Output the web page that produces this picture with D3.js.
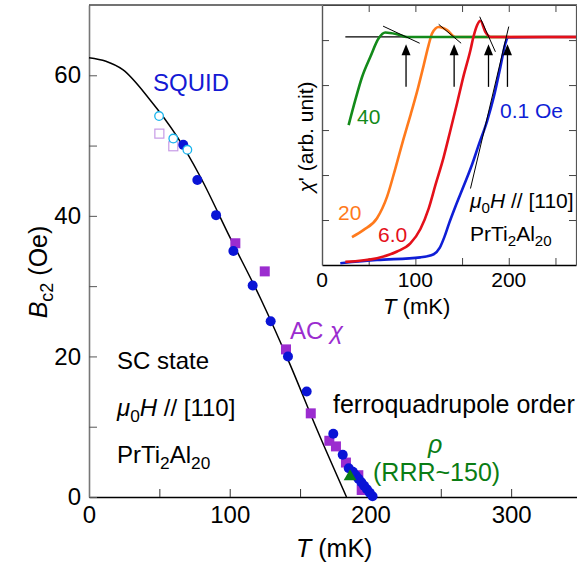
<!DOCTYPE html>
<html>
<head>
<meta charset="utf-8">
<script src="https://cdn.jsdelivr.net/npm/d3@7"></script>
<style>
  body { margin: 0; background: #fff; }
  svg { display: block; font-family: "Liberation Sans", Arial, sans-serif; }
</style>
</head>
<body>
<div id="chart"></div>
<script>
// ---- main panel: Bc2(T) ----
const fitT = [0, 12, 24, 43, 62.5, 79, 100, 122, 143, 162, 183];
const fitB = [62.5, 62.0, 60.8, 56.6, 51.3, 45.6, 37.0, 28.2, 18.8, 9.6, 0];

const squidT = [67, 77, 90.3, 102.6, 116.3, 129.1, 141.4, 154.7, 173.6, 180.3, 184.6, 187.5, 189.5, 191.5, 193.5, 195.5, 197.5, 199.5, 201.5];
const squidB = [50.1, 45.1, 40.1, 35.0, 30.1, 25.0, 20.0, 15.0, 9.0, 6.0, 4.1, 3.6, 3.1, 2.6, 2.1, 1.6, 1.1, 0.6, 0.1];
const openCircT = [49.8, 59.9, 69.9];
const openCircB = [54.2, 51.0, 49.4];
const openSqT = [50, 59.9];
const openSqB = [51.7, 49.9];
const acT = [104, 124.9, 140, 157.6, 170.8, 175.5, 182.6, 191.4, 193.8];
const acB = [36.1, 32.1, 21.0, 11.9, 8.0, 7.2, 4.9, 3.1, 1.0];
const rhoT = [185.5];
const rhoB = [2.9];

// ---- inset: chi'(T) at several fields (arb. units) ----
const chi40 = [[28.5, 3.11], [35.7, 3.67], [42.9, 4.18], [51.8, 4.63], [60.7, 5.04], [67.8, 5.17], [80.4, 5.13], [91, 5.07], [130, 5.07], [200, 5.07]];
const chi20 = [[32.1, 0.62], [44.6, 0.78], [58.9, 1.04], [69.7, 1.52], [78.6, 2.15], [87, 2.78], [95, 3.35], [103, 3.95], [109, 4.45], [114.3, 4.9], [117.9, 5.15], [125, 5.29], [134, 5.22], [142.9, 5.07], [190, 5.07], [272, 5.07]];
const chi6 = [[25, 0.07], [58.9, 0.15], [80.4, 0.30], [94.6, 0.48], [105.4, 0.8], [114.3, 1.26], [121.5, 1.78], [130.3, 2.4], [137, 2.95], [144.7, 3.6], [151.8, 4.22], [159, 4.78], [161.8, 5.04], [166.1, 5.33], [169.6, 5.43], [175, 5.18], [180.4, 5.07], [230, 5.07], [272, 5.07]];
const chi01 = [[19.6, 0.04], [58.9, 0.11], [105.4, 0.17], [119.6, 0.24], [126, 0.38], [131, 0.62], [136, 0.92], [142.9, 1.3], [151.8, 1.76], [160.8, 2.24], [168, 2.68], [176.8, 3.2], [184, 3.74], [191.1, 4.41], [196.5, 4.93], [199, 5.06], [240, 5.07], [272, 5.07]];
const baseLevel = 5.07;
const tangents = [[[65.4, 5.31], [104.6, 4.93]], [[125, 5.35], [149, 4.93]], [[168.9, 5.52], [185.7, 4.74]], [[159, 1.70], [200, 5.30]]];
const arrowT = [90, 141.5, 178.3, 198.6];
const insetXTicks = [0, 100, 200];

const W = 577, H = 573;
const svg = d3.select("#chart").append("svg").attr("width", W).attr("height", H);

const x = d3.scaleLinear().domain([0, 350]).range([89, 581.5]);
const y = d3.scaleLinear().domain([0, 70]).range([497, 5]);

function richText(sel, px, py, parts, size, color) {
  const t = sel.append("text").attr("x", px).attr("y", py)
    .attr("font-size", size).attr("fill", color);
  let shifted = 0;
  parts.forEach(p => {
    const ts = t.append("tspan").text(p.t);
    const s = p.sub ? size * 0.24 : 0;
    if (s - shifted) ts.attr("dy", s - shifted);
    shifted = s;
    if (p.sub) ts.attr("font-size", size * 0.72);
    if (p.i) ts.attr("font-style", "italic");
  });
  return t;
}

// main axes
const xAxis = d3.axisBottom(x).tickValues(d3.range(0, 351, 50)).tickSize(-8).tickSizeOuter(0).tickPadding(9)
  .tickFormat(d => d % 100 === 0 ? d : "");
const gx = svg.append("g").attr("transform", `translate(0,${y(0)})`).call(xAxis);
gx.select(".domain").attr("stroke", "#000").attr("stroke-width", 1.3);
gx.selectAll(".tick line").attr("stroke", "#333");
gx.selectAll("text").attr("font-size", 24).attr("fill", "#000").attr("font-family", "Liberation Sans, Arial, sans-serif");

const yAxis = d3.axisLeft(y).tickValues(d3.range(0, 61, 10)).tickSize(-8).tickSizeOuter(0).tickPadding(8)
  .tickFormat(d => d % 20 === 0 ? d : "");
const gy = svg.append("g").attr("transform", `translate(${x(0)},0)`).call(yAxis);
gy.select(".domain").attr("stroke", "#777").attr("stroke-width", 1.6);
gy.selectAll(".tick line").attr("stroke", "#555");
gy.selectAll("text").attr("font-size", 24).attr("fill", "#000").attr("font-family", "Liberation Sans, Arial, sans-serif");

svg.append("line").attr("x1", x(0)).attr("x2", W).attr("y1", y(70)).attr("y2", y(70))
  .attr("stroke", "#444").attr("stroke-width", 1.3);

// fit curve
const fitLine = d3.line().x(d => x(d[0])).y(d => y(d[1])).curve(d3.curveMonotoneX);
svg.append("path").datum(d3.zip(fitT, fitB)).attr("d", fitLine)
  .attr("fill", "none").attr("stroke", "#000").attr("stroke-width", 1.5);

// markers
svg.append("g").selectAll("rect").data(d3.zip(openSqT, openSqB)).join("rect")
  .attr("x", d => x(d[0]) - 4.5).attr("y", d => y(d[1]) - 4.5).attr("width", 9).attr("height", 9)
  .attr("fill", "none").attr("stroke", "#c79be6").attr("stroke-width", 1.2);
svg.append("g").selectAll("rect").data(d3.zip(acT, acB)).join("rect")
  .attr("x", d => x(d[0]) - 5).attr("y", d => y(d[1]) - 5).attr("width", 10).attr("height", 10)
  .attr("fill", "#9b2ccf");
svg.append("g").selectAll("circle").data(d3.zip(squidT, squidB)).join("circle")
  .attr("cx", d => x(d[0])).attr("cy", d => y(d[1])).attr("r", 5)
  .attr("fill", "#0a14d6");
svg.append("g").selectAll("circle").data(d3.zip(openCircT, openCircB)).join("circle")
  .attr("cx", d => x(d[0])).attr("cy", d => y(d[1])).attr("r", 4.3)
  .attr("fill", "#fff").attr("stroke", "#19b4ec").attr("stroke-width", 1.3);
svg.append("g").selectAll("path").data(d3.zip(rhoT, rhoB)).join("path")
  .attr("d", d3.symbol(d3.symbolTriangle, 70))
  .attr("transform", d => `translate(${x(d[0])},${y(d[1])})`)
  .attr("fill", "#0a7d14");

// main annotations
richText(svg, 153, 91, [{ t: "SQUID" }], 24, "#1419d4");
richText(svg, 290, 339, [{ t: "AC " }, { t: "χ", i: true }], 24, "#9b2ccf");
richText(svg, 333, 413, [{ t: "ferroquadrupole order" }], 25, "#000");
richText(svg, 428, 453, [{ t: "ρ", i: true }], 25, "#0a7d14");
richText(svg, 373, 481, [{ t: "(RRR~150)" }], 25, "#0a7d14");
richText(svg, 117, 369, [{ t: "SC state" }], 24, "#000");
richText(svg, 117, 416, [{ t: "μ", i: true }, { t: "0", sub: true }, { t: "H", i: true }, { t: " // [110]" }], 24, "#000");
richText(svg, 117, 463, [{ t: "PrTi" }, { t: "2", sub: true }, { t: "Al" }, { t: "20", sub: true }], 24, "#000");

richText(svg, 296, 557, [{ t: "T", i: true }, { t: " (mK)" }], 25, "#000");
const yl = richText(svg.append("g").attr("transform", "translate(47,272) rotate(-90)"), 0, 0,
  [{ t: "B", i: true }, { t: "c2", sub: true }, { t: " (Oe)" }], 25, "#000");
yl.attr("text-anchor", "middle");

// ---- inset ----
const ix = d3.scaleLinear().domain([0, 272]).range([322, 576]);
const iy = d3.scaleLinear().domain([0, 5.78]).range([265, 5]);
const inset = svg.append("g");
inset.append("rect").attr("x", ix(0)).attr("y", iy(5.78)).attr("width", W - ix(0)).attr("height", iy(0) - iy(5.78))
  .attr("fill", "#fff");

const ixTicks = d3.range(0, 272, 50);
const iyTicks = d3.range(1, 6, 1);
inset.append("g").attr("transform", `translate(0,${iy(0)})`)
  .call(d3.axisBottom(ix).tickValues(ixTicks).tickSize(-7).tickSizeOuter(0).tickFormat(""))
  .call(g => g.select(".domain").attr("stroke", "#000").attr("stroke-width", 1.3));
inset.append("g").attr("transform", `translate(0,${iy(5.78)})`)
  .call(d3.axisTop(ix).tickValues(ixTicks.slice(1)).tickSize(-7).tickSizeOuter(0).tickFormat(""))
  .call(g => g.select(".domain").attr("stroke", "#444").attr("stroke-width", 1.2));
inset.append("g").attr("transform", `translate(${ix(0)},0)`)
  .call(d3.axisLeft(iy).tickValues(iyTicks).tickSize(-7).tickSizeOuter(0).tickFormat(""))
  .call(g => g.select(".domain").attr("stroke", "#555").attr("stroke-width", 1.4));
inset.append("g").attr("transform", `translate(${ix(272)},0)`)
  .call(d3.axisRight(iy).tickValues(iyTicks).tickSize(-7).tickSizeOuter(0).tickFormat(""))
  .call(g => g.select(".domain").attr("stroke", "#555").attr("stroke-width", 1.2));
inset.selectAll(".tick line").attr("stroke", "#444");

inset.append("g").selectAll("text").data(insetXTicks).join("text")
  .attr("x", d => ix(d)).attr("y", 287).attr("text-anchor", "middle")
  .attr("font-size", 21).text(d => d);

inset.append("line").attr("x1", ix(25)).attr("x2", ix(272)).attr("y1", iy(baseLevel)).attr("y2", iy(baseLevel))
  .attr("stroke", "#000").attr("stroke-width", 1.2);

const chiLine = d3.line().x(d => ix(d[0])).y(d => iy(d[1])).curve(d3.curveMonotoneX);
const series = [
  { data: chi01, color: "#0f1ed6" },
  { data: chi20, color: "#ff7a1c" },
  { data: chi40, color: "#138a1a" },
  { data: chi6, color: "#e4101a" }
];
inset.append("g").selectAll("path").data(series).join("path")
  .attr("d", d => chiLine(d.data)).attr("fill", "none")
  .attr("stroke", d => d.color).attr("stroke-width", 2.6);

inset.append("g").selectAll("line").data(tangents).join("line")
  .attr("x1", d => ix(d[0][0])).attr("y1", d => iy(d[0][1]))
  .attr("x2", d => ix(d[1][0])).attr("y2", d => iy(d[1][1]))
  .attr("stroke", "#000").attr("stroke-width", 1);

const arrows = inset.append("g").selectAll("g").data(arrowT).join("g")
  .attr("transform", d => `translate(${ix(d)},0)`);
arrows.append("line").attr("x1", 0).attr("x2", 0).attr("y1", iy(3.96)).attr("y2", iy(4.75))
  .attr("stroke", "#000").attr("stroke-width", 1.3);
arrows.append("path").attr("d", `M0,${iy(4.91)} L-4.5,${iy(4.91) + 11} L4.5,${iy(4.91) + 11} Z`).attr("fill", "#000");

richText(inset, 357, 124, [{ t: "40" }], 21, "#138a1a");
richText(inset, 338, 220, [{ t: "20" }], 21, "#ff7a1c");
richText(inset, 378, 242, [{ t: "6.0" }], 21, "#e4101a");
richText(inset, 500, 118, [{ t: "0.1 Oe" }], 21, "#0f1ed6");
richText(inset, 470, 208, [{ t: "μ", i: true }, { t: "0", sub: true }, { t: "H", i: true }, { t: " // [110]" }], 21, "#000");
richText(inset, 470, 241, [{ t: "PrTi" }, { t: "2", sub: true }, { t: "Al" }, { t: "20", sub: true }], 21, "#000");
richText(inset, 383, 314, [{ t: "T", i: true }, { t: " (mK)" }], 22, "#000");
const il = richText(svg.append("g").attr("transform", "translate(313,137) rotate(-90)"), 0, 0,
  [{ t: "χ", i: true }, { t: "' (arb. unit)" }], 21, "#000");
il.attr("text-anchor", "middle");
</script>
</body>
</html>
